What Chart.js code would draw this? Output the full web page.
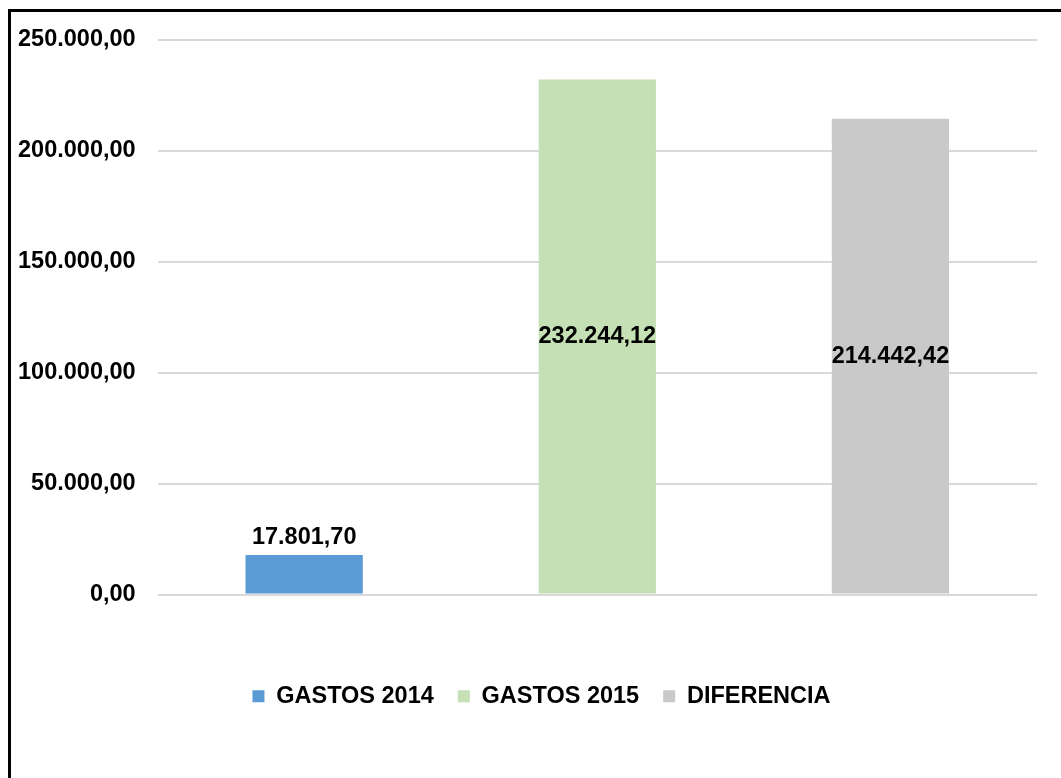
<!DOCTYPE html>
<html lang="es">

<head>
  <meta charset="UTF-8" />
  <title>Gastos 2014 - 2015</title>
  <script src="https://cdn.jsdelivr.net/npm/chart.js"></script>
  <style>
    html,
    body {
      margin: 0;
      padding: 0;
      background: #fff;
      overflow: hidden;
    }

    .marco {
      position: absolute;
      left: 8px;
      top: 9px;
      width: 1100px;
      height: 900px;
      border: 3px solid #000;
    }

    .grafico {
      position: absolute;
      left: 0;
      top: 0;
      width: 1061px;
      height: 778px;
    }
  </style>
</head>

<body>
  <div class="marco"></div>
  <div class="grafico">
    <canvas id="barChart" width="1061" height="778"></canvas>
  </div>

  <script>
    // datos
    var categorias = ['GASTOS 2014', 'GASTOS 2015', 'DIFERENCIA']
    var valores = [17801.70, 232244.12, 214442.42]
    var colores = ['#5B9BD5', '#C5E0B4', '#C9C9C9']
    var ticksY = [0, 50000, 100000, 150000, 200000, 250000]

    var fuente = '"Liberation Sans", Arial, sans-serif'

    function formato(v) {
      return v.toLocaleString('es-ES', { minimumFractionDigits: 2, maximumFractionDigits: 2, useGrouping: 'always' })
    }

    // cada serie ocupa solo su categoria
    var datasets = categorias.map(function (nombre, i) {
      var data = categorias.map(function (c, j) { return j === i ? valores[i] : null })
      return {
        label: nombre,
        data: data,
        backgroundColor: colores[i],
        borderWidth: 0,
        barPercentage: 0.4,
        categoryPercentage: 1
      }
    })

    // etiquetas de valor: en el centro, o encima si la barra es baja
    const etiquetas = {
      id: 'etiquetas',
      afterDatasetsDraw(chart) {
        const ctx = chart.ctx
        ctx.save()
        ctx.font = 'bold 23.5px ' + fuente
        ctx.fillStyle = '#000'
        ctx.textAlign = 'center'
        ctx.textBaseline = 'middle'
        chart.data.datasets.forEach((ds, i) => {
          const meta = chart.getDatasetMeta(i)
          meta.data.forEach((bar, j) => {
            const v = ds.data[j]
            if (v === null || v === undefined) return
            const alto = bar.base - bar.y
            let y = bar.y + alto / 2
            if (alto < 60) y = bar.y - 18
            ctx.fillText(formato(v), bar.x, y)
          })
        })
        ctx.restore()
      }
    }

    // la leyenda del original no esta centrada sobre el area, se corre un poco
    const correrLeyenda = {
      id: 'correrLeyenda',
      afterLayout(chart) {
        if (!chart.legend) return
        chart.legend.left += 25
        chart.legend.right += 25
      }
    }

    Chart.defaults.font.family = fuente
    Chart.defaults.color = '#000'

    new Chart(document.getElementById('barChart'), {
      type: 'bar',
      data: {
        labels: categorias,
        datasets: datasets
      },
      plugins: [etiquetas, correrLeyenda],
      options: {
        responsive: false,
        animation: false,
        grouped: false,
        layout: {
          padding: { left: -4, right: 24, top: 40, bottom: 60 }
        },
        scales: {
          x: {
            grid: { display: false },
            border: { display: false },
            ticks: { display: false },
            afterFit: function (scale) { scale.height = 66 }
          },
          y: {
            min: 0,
            max: 250000,
            afterBuildTicks: function (scale) {
              scale.ticks = ticksY.map(v => ({ value: v }))
            },
            grid: { color: '#D9D9D9', lineWidth: 2, drawTicks: false },
            border: { display: false },
            ticks: {
              padding: 22,
              font: { size: 23.5, weight: 'bold' },
              callback: function (v) { return formato(v) }
            }
          }
        },
        plugins: {
          legend: {
            position: 'bottom',
            labels: {
              boxWidth: 12,
              boxHeight: 12,
              padding: 24,
              font: { size: 23.5, weight: 'bold' }
            }
          },
          tooltip: { enabled: false }
        }
      }
    })
  </script>
</body>

</html>
